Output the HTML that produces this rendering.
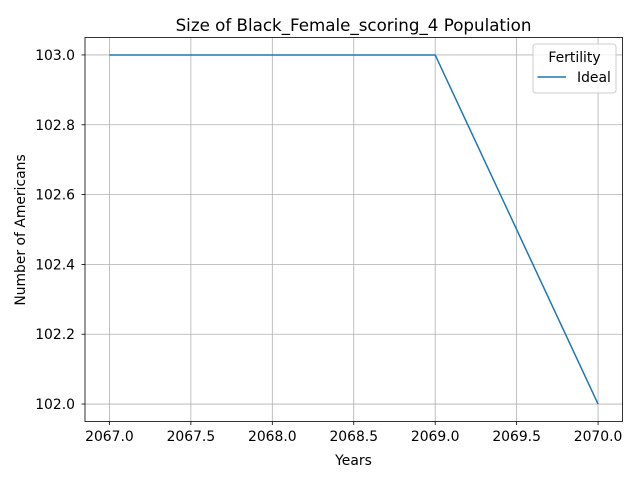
<!DOCTYPE html>
<html><head><meta charset="utf-8"><style>
body{margin:0;background:#fff;}
svg text{font-family:"DejaVu Sans","Liberation Sans",sans-serif;fill:#000;}
</style></head><body>
<svg width="640" height="480" viewBox="0 0 640 480">
<rect width="640" height="480" fill="#fff"/>
<g id="grid"></g>
<g id="ticks"></g>
<path id="line" fill="none" stroke="#1f77b4" stroke-width="1.5"/>
<rect x="85" y="37.5" width="537.5" height="384" fill="none" stroke="#000" stroke-width="0.8"/>
<text x="353.5" y="31" font-size="16.7" text-anchor="middle">Size of Black_Female_scoring_4 Population</text>
<text x="353.5" y="465" font-size="13.9" text-anchor="middle">Years</text>
<text transform="translate(25,230) rotate(-90)" font-size="13.9" text-anchor="middle">Number of Americans</text>
<g>
<rect x="533" y="44" width="83" height="49" rx="3" fill="#fff" fill-opacity="0.8" stroke="#ccc"/>
<text x="574.5" y="62" font-size="13.9" text-anchor="middle">Fertility</text>
<line x1="537.5" y1="77" x2="566" y2="77" stroke="#1f77b4" stroke-width="1.5"/>
<text x="577" y="82" font-size="13.9">Ideal</text>
</g>
</svg>
<script>
const years=[2067,2068,2069,2070];
const ideal=[103,103,103,102];
const xTicks=[2067.0,2067.5,2068.0,2068.5,2069.0,2069.5,2070.0];
const yTicks=[102.0,102.2,102.4,102.6,102.8,103.0];
const X0=85,X1=622.5,Y0=421.5,Y1=37.5;
const xmin=2066.85,xmax=2070.15,ymin=101.95,ymax=103.05;
const sx=v=>X0+(v-xmin)/(xmax-xmin)*(X1-X0);
const sy=v=>Y0-(v-ymin)/(ymax-ymin)*(Y0-Y1);
const NS="http://www.w3.org/2000/svg";
const grid=document.getElementById('grid'),tk=document.getElementById('ticks');
function mk(tag,attrs,parent){const e=document.createElementNS(NS,tag);for(const k in attrs)e.setAttribute(k,attrs[k]);parent.appendChild(e);return e;}
xTicks.forEach(t=>{const x=sx(t);
const g=mk('line',{x1:x,x2:x,y1:Y0,y2:Y1,stroke:'#b0b0b0','stroke-width':0.8},grid);


mk('line',{x1:x,x2:x,y1:Y0,y2:Y0+3.5,stroke:'#000','stroke-width':0.8},tk);
const l=mk('text',{x:x,y:Y0+19.5,'font-size':13.9,'text-anchor':'middle'},tk);l.textContent=t.toFixed(1);

});
yTicks.forEach(t=>{const y=sy(t);
const g=mk('line',{x1:X0,x2:X1,y1:y,y2:y,stroke:'#b0b0b0','stroke-width':0.8},grid);


mk('line',{x1:X0-3.5,x2:X0,y1:y,y2:y,stroke:'#000','stroke-width':0.8},tk);
const l=mk('text',{x:X0-10,y:y+5,'font-size':13.9,'text-anchor':'end'},tk);l.textContent=t.toFixed(1);

});
document.getElementById('line').setAttribute('d',years.map((v,i)=>(i?'L':'M')+sx(v)+','+sy(ideal[i])).join(' '));
</script>
</body></html>
